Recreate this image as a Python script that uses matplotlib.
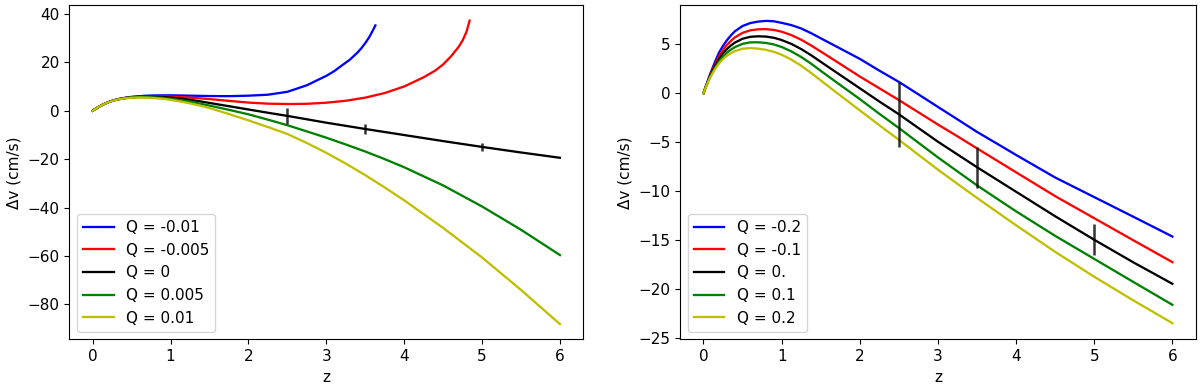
import matplotlib
matplotlib.use('Agg')
import matplotlib.pyplot as plt

# redshift grid for the curves that run all the way to z = 6
z_grid = [0, 0.025, 0.05, 0.075, 0.1, 0.15, 0.2, 0.25, 0.3, 0.35, 0.4, 0.5,
          0.6, 0.7, 0.8, 0.9, 1.0, 1.125, 1.25, 1.375, 1.5, 1.75, 2.0, 2.25,
          2.5, 2.75, 3.0, 3.25, 3.5, 3.75, 4.0, 4.5, 5.0, 5.5, 6.0]

# ---- left panel: small Q, the negative ones blow up before z = 6 ----
left_labels = ['Q = -0.01', 'Q = -0.005', 'Q = 0', 'Q = 0.005', 'Q = 0.01']

z_left_blue = [0, 0.025, 0.05, 0.075, 0.1, 0.15, 0.2, 0.25, 0.3, 0.35, 0.4,
               0.5, 0.6, 0.7, 0.8, 0.9, 1.0, 1.25, 1.5, 1.75, 2.0, 2.25, 2.5,
               2.75, 3.0, 3.1, 3.2, 3.3, 3.4, 3.45, 3.5, 3.55, 3.6, 3.63]
dv_left_blue = [0, 0.55, 1.05, 1.55, 2.0, 2.81, 3.52, 4.08, 4.55, 4.92, 5.23,
                5.7, 6.0, 6.2, 6.3, 6.35, 6.35, 6.2, 6.05, 6.0, 6.2, 6.6, 7.8,
                10.5, 14.4, 16.3, 18.7, 21.0, 24.0, 25.8, 27.9, 30.3, 33.3, 35.2]

z_left_red = [0, 0.025, 0.05, 0.075, 0.1, 0.15, 0.2, 0.25, 0.3, 0.35, 0.4,
              0.5, 0.6, 0.7, 0.8, 0.9, 1.0, 1.25, 1.5, 1.75, 2.0, 2.25, 2.5,
              2.75, 3.0, 3.25, 3.5, 3.75, 4.0, 4.25, 4.4, 4.5, 4.6, 4.7, 4.75,
              4.8, 4.84]
dv_left_red = [0, 0.55, 1.05, 1.55, 2.0, 2.81, 3.51, 4.07, 4.53, 4.9, 5.2,
               5.65, 5.9, 6.0, 6.02, 5.95, 5.85, 5.4, 4.8, 4.05, 3.35, 2.9, 2.75,
               2.85, 3.3, 4.1, 5.4, 7.3, 10.0, 13.8, 16.6, 19.1, 22.4, 26.4, 29.0,
               32.6, 37.2]

dv_left_black = [0, 0.55, 1.05, 1.55, 2.0, 2.8, 3.5, 4.05, 4.5, 4.85, 5.15, 5.55,
                 5.75, 5.8, 5.77, 5.65, 5.42, 5.02, 4.5, 3.88, 3.2, 1.85, 0.5, -0.85,
                 -2.15, -3.55, -4.95, -6.25, -7.55, -8.8, -10.05, -12.55, -14.95,
                 -17.25, -19.44]
dv_left_green = [0, 0.55, 1.05, 1.55, 2.0, 2.8, 3.49, 4.03, 4.47, 4.81, 5.09, 5.45,
                 5.6, 5.58, 5.47, 5.25, 4.92, 4.38, 3.72, 2.95, 2.1, 0.35, -1.5, -3.7,
                 -6.0, -8.55, -11.15, -13.95, -16.85, -20.0, -23.35, -30.85, -39.55,
                 -49.15, -59.6]
dv_left_yellow = [0, 0.55, 1.05, 1.55, 2.0, 2.79, 3.48, 4.02, 4.45, 4.78, 5.05, 5.37,
                  5.46, 5.38, 5.2, 4.9, 4.47, 3.82, 3.02, 2.1, 1.1, -1.4, -4.0, -6.75,
                  -9.6, -13.35, -17.4, -21.85, -26.6, -31.7, -37.0, -48.4, -60.6,
                  -74.0, -88.1]

# ---- right panel: larger Q, curves stay nearly parallel ----
right_labels = ['Q = -0.2', 'Q = -0.1', 'Q = 0.', 'Q = 0.1', 'Q = 0.2']

dv_right_blue = [0, 0.6, 1.15, 1.72, 2.25, 3.25, 4.15, 4.83, 5.4, 5.88, 6.3, 6.85,
                 7.15, 7.3, 7.37, 7.33, 7.17, 6.94, 6.6, 6.13, 5.6, 4.55, 3.5, 2.3,
                 1.15, -0.12, -1.4, -2.67, -3.95, -5.12, -6.3, -8.6, -10.6, -12.6,
                 -14.62]
dv_right_red = [0, 0.57, 1.09, 1.63, 2.12, 3.0, 3.78, 4.41, 4.92, 5.33, 5.68, 6.15,
                6.41, 6.51, 6.53, 6.45, 6.27, 5.92, 5.45, 4.88, 4.25, 2.98, 1.7, 0.5,
                -0.7, -1.95, -3.2, -4.4, -5.63, -6.85, -8.07, -10.5, -12.75, -15.0,
                -17.23]
dv_right_black = [0, 0.55, 1.05, 1.55, 2.0, 2.8, 3.5, 4.05, 4.5, 4.85, 5.15, 5.55,
                  5.75, 5.8, 5.77, 5.65, 5.42, 5.02, 4.5, 3.88, 3.2, 1.85, 0.5, -0.85,
                  -2.15, -3.55, -4.95, -6.25, -7.55, -8.8, -10.05, -12.55, -14.95,
                  -17.25, -19.44]
dv_right_green = [0, 0.53, 1.01, 1.48, 1.9, 2.62, 3.25, 3.74, 4.13, 4.43, 4.69, 5.03,
                  5.18, 5.19, 5.12, 4.97, 4.71, 4.26, 3.69, 3.02, 2.28, 0.83, -0.6,
                  -2.1, -3.55, -5.05, -6.55, -7.98, -9.4, -10.73, -12.05, -14.55,
                  -16.9, -19.25, -21.58]
dv_right_yellow = [0, 0.51, 0.97, 1.42, 1.81, 2.48, 3.05, 3.48, 3.82, 4.07, 4.28, 4.53,
                   4.6, 4.54, 4.42, 4.22, 3.92, 3.42, 2.8, 2.08, 1.3, -0.23, -1.75,
                   -3.27, -4.75, -6.28, -7.8, -9.25, -10.68, -12.08, -13.47, -16.18,
                   -18.72, -21.13, -23.45]

# error bars sitting on the Q = 0 curve
err_z = [2.5, 3.5, 5.0]
err_dv = [-2.15, -7.55, -14.9]
err_size = [3.3, 2.1, 1.6]

colors = ['b', 'r', 'k', 'g', 'y']

# reference looks like a slightly enlarged default figure
plt.rcParams['font.size'] = 11
plt.rcParams['lines.linewidth'] = 1.65

fig = plt.figure(figsize=(12, 3.86), dpi=100)
ax1 = fig.add_axes([0.0578, 0.121, 0.4283, 0.865])
ax2 = fig.add_axes([0.5667, 0.121, 0.4298, 0.865])

left_curves = [(z_left_blue, dv_left_blue), (z_left_red, dv_left_red),
               (z_grid, dv_left_black), (z_grid, dv_left_green),
               (z_grid, dv_left_yellow)]
for (zz, dv), c, lab in zip(left_curves, colors, left_labels):
    ax1.plot(zz, dv, color=c, label=lab)

right_curves = [dv_right_blue, dv_right_red, dv_right_black,
                dv_right_green, dv_right_yellow]
for dv, c, lab in zip(right_curves, colors, right_labels):
    ax2.plot(z_grid, dv, color=c, label=lab)

for ax in (ax1, ax2):
    ax.errorbar(err_z, err_dv, yerr=err_size, fmt='none', ecolor='k',
                elinewidth=1.8, alpha=0.8)
    ax.set_xlabel('z')
    ax.set_ylabel('Δv (cm/s)')
    ax.legend(loc='lower left')

# the reference frame reaches just past -25 on the right panel
ax2.set_ylim(-25.1, 8.95)

fig.savefig('out.png', dpi=100)
